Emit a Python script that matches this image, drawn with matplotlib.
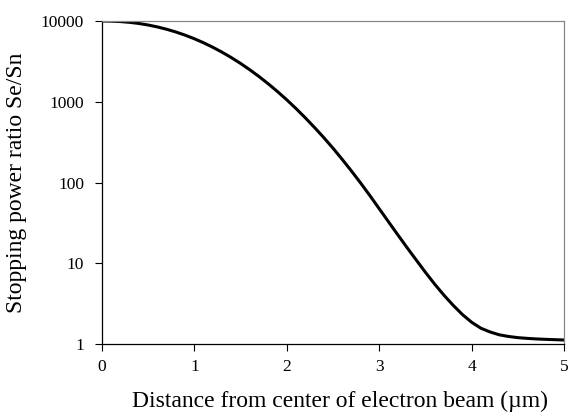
import matplotlib
matplotlib.use("Agg")
import matplotlib.pyplot as plt
from matplotlib.ticker import FixedLocator, NullLocator

# Data
distance_um = [0.0, 0.1, 0.2, 0.3, 0.4, 0.5, 0.6, 0.7, 0.8, 0.9,
               1.0, 1.1, 1.2, 1.3, 1.4, 1.5, 1.6, 1.7, 1.8, 1.9,
               2.0, 2.1, 2.2, 2.3, 2.4, 2.5, 2.6, 2.7, 2.8, 2.9,
               3.0, 3.1, 3.2, 3.3, 3.4, 3.5, 3.6, 3.7, 3.8, 3.9,
               4.0, 4.1, 4.2, 4.3, 4.4, 4.5, 4.6, 4.7, 4.8, 4.9, 5.0]
se_sn_ratio = [10000, 9964, 9842, 9627, 9318, 8921, 8444, 7903, 7310, 6677,
               6026, 5370, 4724, 4105, 3520, 2979, 2487, 2049, 1665, 1335,
               1056, 823, 633, 480, 360, 266, 193, 138.6, 98.2, 68.6,
               47.4, 32.7, 22.6, 15.7, 11.0, 7.73, 5.52, 4.03, 3.02, 2.32,
               1.86, 1.57, 1.41, 1.30, 1.24, 1.20, 1.175, 1.156, 1.143, 1.132, 1.122]
x_ticks = [0, 1, 2, 3, 4, 5]
y_ticks = [1, 10, 100, 1000, 10000]
y_tick_labels = ["1", "10", "100", "1000", "10000"]

plt.rcParams['font.family'] = ['Liberation Serif', 'DejaVu Serif']

fig = plt.figure(figsize=(5.68, 4.17), dpi=100)
ax = fig.add_axes([0.1796, 0.175, 0.8134, 0.7746])

ax.plot(distance_um, se_sn_ratio, color='black', linewidth=2.2)

ax.set_yscale('log')
ax.set_xlim(0, 5)
ax.set_ylim(1, 10000)
ax.xaxis.set_major_locator(FixedLocator(x_ticks))
ax.yaxis.set_major_locator(FixedLocator(y_ticks))
ax.yaxis.set_minor_locator(NullLocator())
ax.set_xticklabels([str(t) for t in x_ticks])
ax.set_yticklabels(y_tick_labels)

ax.tick_params(axis='both', which='major', direction='out', length=5,
               width=0.8, labelsize=12.5, colors='black')
ax.tick_params(axis='y', pad=8)
ax.tick_params(axis='x', pad=6)

for side in ['left', 'bottom']:
    ax.spines[side].set_color('black')
    ax.spines[side].set_linewidth(0.9)
for side in ['top', 'right']:
    ax.spines[side].set_color('#888888')
    ax.spines[side].set_linewidth(0.9)

ax.set_xlabel('Distance from center of electron beam (\u00b5m)', fontsize=17, labelpad=12)
ax.set_ylabel('Stopping power ratio Se/Sn', fontsize=17, labelpad=10)
ax.xaxis.set_label_coords(0.515, -0.145)

fig.savefig('out.png', dpi=100, facecolor='white')
